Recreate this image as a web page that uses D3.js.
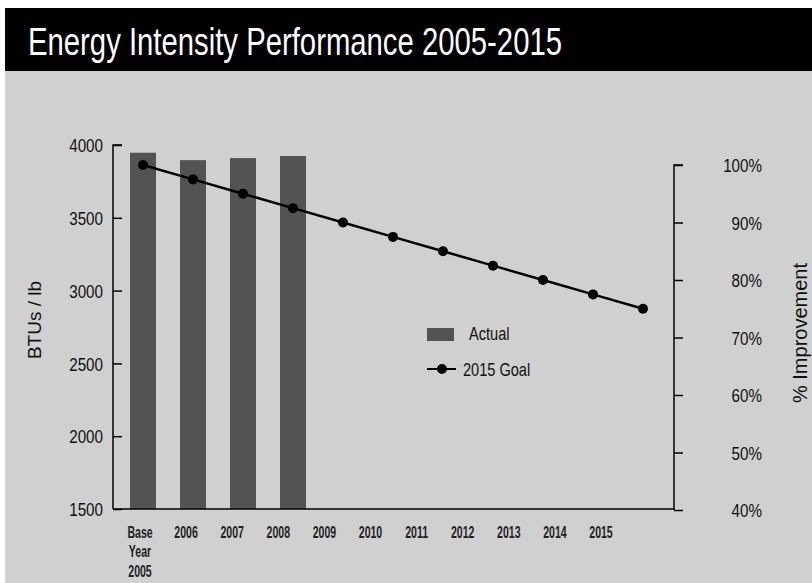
<!DOCTYPE html>
<html>
<head>
<meta charset="utf-8">
<script src="https://cdn.jsdelivr.net/npm/d3@7"></script>
<style>
  html, body { margin: 0; padding: 0; background: #ffffff; }
  svg { display: block; }
</style>
</head>
<body>
<svg id="chart" width="812" height="583"></svg>
<script>
// ---- data ----
const categories = ["2005", "2006", "2007", "2008", "2009", "2010", "2011", "2012", "2013", "2014", "2015"];
const categoryLabels = [["Base", "Year", "2005"], ["2006"], ["2007"], ["2008"], ["2009"], ["2010"], ["2011"], ["2012"], ["2013"], ["2014"], ["2015"]];
const actualYears = ["2005", "2006", "2007", "2008"];
const actualValues = [3947, 3896, 3910, 3924];
const goalValues = [100, 97.5, 95, 92.5, 90, 87.5, 85, 82.5, 80, 77.5, 75];
const leftTicks = [1500, 2000, 2500, 3000, 3500, 4000];
const rightTicks = [40, 50, 60, 70, 80, 90, 100];
const titleText = "Energy Intensity Performance 2005-2015";
const leftAxisTitle = "BTUs / lb";
const rightAxisTitle = "% Improvement";
const legendLabels = ["Actual", "2015 Goal"];

// ---- setup ----
const svg = d3.select("#chart");
const FONT = "'Liberation Sans', Arial, sans-serif";
const BG = "#d0d0d0";
const BAR = "#535353";

svg.append("rect").attr("x", 5).attr("y", 71).attr("width", 807).attr("height", 512).attr("fill", BG);
svg.append("rect").attr("x", 5).attr("y", 8).attr("width", 807).attr("height", 63).attr("fill", "#000");
svg.append("text")
  .attr("x", 28).attr("y", 55)
  .attr("font-family", FONT).attr("font-size", 39).attr("fill", "#fff")
  .attr("textLength", 534).attr("lengthAdjust", "spacingAndGlyphs")
  .text(titleText);

const xLeft = 113, xRight = 674, yBottom = 509;

const x = d3.scalePoint().domain(categories).range([143, 643]);
const xLabel = d3.scalePoint().domain(categories).range([140, 601]);
const yL = d3.scaleLinear().domain([1500, 4000]).range([509, 145]);
const yR = d3.scaleLinear().domain([40, 100]).range([510, 165]);

// bars
const barW = 26;
svg.append("g").selectAll("rect").data(actualYears.map((c, i) => ({c, v: actualValues[i]})))
  .join("rect")
  .attr("x", d => x(d.c) - barW / 2)
  .attr("y", d => yL(d.v))
  .attr("width", barW)
  .attr("height", d => yL(1500) - yL(d.v))
  .attr("fill", BAR);

// left axis
const gL = svg.append("g").attr("transform", `translate(${xLeft},0)`)
  .call(d3.axisRight(yL).tickValues(leftTicks).tickSize(9).tickFormat(d3.format("d")));
gL.select(".domain").attr("d", `M9,${yL(4000)}H0V${yL(1500)}`).attr("stroke-width", 1.5);
gL.selectAll(".tick line").attr("stroke-width", 1.5);
gL.selectAll(".tick text")
  .attr("x", 0).attr("dy", "0.35em").attr("text-anchor", "end")
  .attr("transform", "translate(-10,0) scale(0.8,1)")
  .attr("font-family", FONT).attr("font-size", 19).attr("fill", "#111");

// right axis
const gR = svg.append("g").attr("transform", `translate(${xRight},0)`)
  .call(d3.axisRight(yR).tickValues(rightTicks).tickSize(9).tickFormat(d => d + "%"));
gR.select(".domain").attr("d", `M9,${yR(100)}H0V${yR(40)}`).attr("stroke-width", 1.5);
gR.selectAll(".tick line").attr("stroke-width", 1.5);
gR.selectAll(".tick text")
  .attr("x", 0).attr("dy", "0.35em").attr("text-anchor", "end")
  .attr("transform", "translate(88,0) scale(0.8,1)")
  .attr("font-family", FONT).attr("font-size", 19).attr("fill", "#111");

// bottom axis line
svg.append("line").attr("x1", xLeft).attr("x2", xRight).attr("y1", yBottom).attr("y2", yBottom)
  .attr("stroke", "#000").attr("stroke-width", 1.5);

// bottom labels
const gB = svg.append("g").selectAll("g").data(categories).join("g")
  .attr("transform", d => `translate(${xLabel(d)},538)`);
gB.each(function(d, i) {
  const g = d3.select(this);
  categoryLabels[i].forEach((t, j) => {
    g.append("text")
      .attr("transform", `translate(0,${j * 19.3}) scale(0.66,1)`)
      .attr("text-anchor", "middle")
      .attr("font-family", FONT).attr("font-size", 16).attr("font-weight", "bold").attr("fill", "#222")
      .text(t);
  });
});

// goal line
const line = d3.line().x((d, i) => x(categories[i])).y(d => yR(d));
svg.append("path").datum(goalValues).attr("d", line)
  .attr("fill", "none").attr("stroke", "#000").attr("stroke-width", 2.5);
svg.append("g").selectAll("circle").data(goalValues).join("circle")
  .attr("cx", (d, i) => x(categories[i])).attr("cy", d => yR(d)).attr("r", 5).attr("fill", "#000");

// axis titles
svg.append("text").attr("transform", "translate(41,320) rotate(-90)")
  .attr("text-anchor", "middle").attr("font-family", FONT).attr("font-size", 19).attr("fill", "#111")
  .text(leftAxisTitle);
svg.append("text").attr("transform", "translate(807,333) rotate(-90)")
  .attr("text-anchor", "middle").attr("font-family", FONT).attr("font-size", 20).attr("fill", "#111")
  .text(rightAxisTitle);

// legend
const lg = svg.append("g");
lg.append("rect").attr("x", 427).attr("y", 328).attr("width", 27).attr("height", 13).attr("fill", BAR);
lg.append("text").attr("transform", "translate(469,340) scale(0.81,1)")
  .attr("font-family", FONT).attr("font-size", 18).attr("fill", "#111").text(legendLabels[0]);
lg.append("line").attr("x1", 427).attr("x2", 456).attr("y1", 369).attr("y2", 369).attr("stroke", "#000").attr("stroke-width", 2);
lg.append("circle").attr("cx", 442).attr("cy", 369).attr("r", 5).attr("fill", "#000");
lg.append("text").attr("transform", "translate(463,376) scale(0.81,1)")
  .attr("font-family", FONT).attr("font-size", 18).attr("fill", "#111").text(legendLabels[1]);
</script>
</body>
</html>
